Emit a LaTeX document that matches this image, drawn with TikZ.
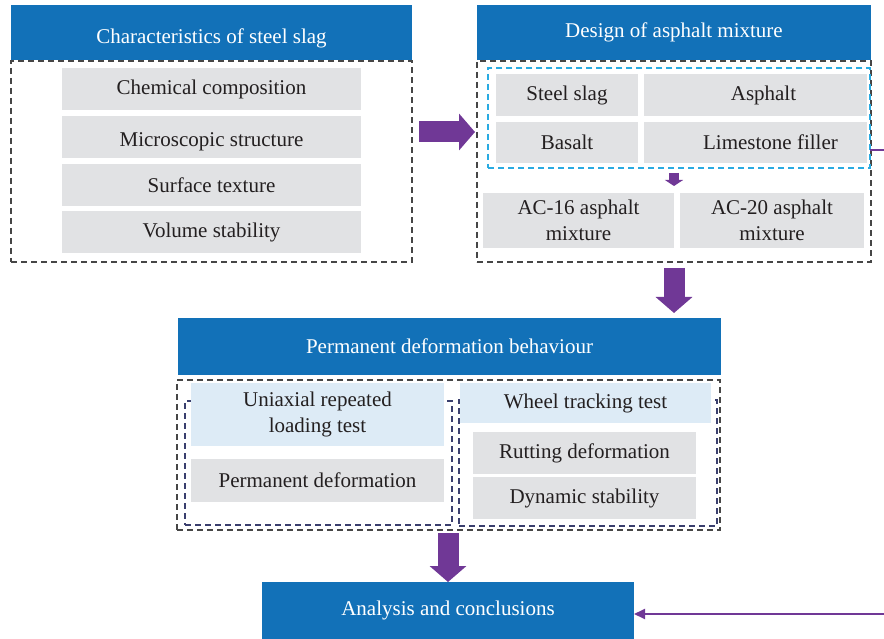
\documentclass[tikz,border=0pt]{standalone}
\usepackage{fontspec}
\setmainfont{Liberation Serif}
\usetikzlibrary{arrows.meta}
\definecolor{hblue}{RGB}{18,113,184}
\definecolor{boxgray}{RGB}{225,226,228}
\definecolor{lblue}{RGB}{221,235,246}
\definecolor{vio}{RGB}{112,56,150}
\definecolor{cyanl}{RGB}{41,171,226}
\definecolor{navyd}{RGB}{58,63,110}
\definecolor{grayd}{RGB}{70,70,70}
\definecolor{txt}{RGB}{35,31,32}
\begin{document}
\begin{tikzpicture}[x=1pt,y=-1pt,
  every node/.style={inner sep=0pt, outer sep=0pt, font=\fontsize{21}{26}\selectfont, text=txt, align=center},
  header/.style={fill=hblue, text=white},
  graybox/.style={fill=boxgray},
  lightbox/.style={fill=lblue},
  outerdash/.style={draw=grayd, line width=1.5pt, dash pattern=on 6pt off 4pt},
  cyandash/.style={draw=cyanl, line width=1.5pt, dash pattern=on 6pt off 4pt},
  navydash/.style={draw=navyd, line width=1.5pt, dash pattern=on 6pt off 4pt},
  bigarrow/.style={draw=vio, line width=21pt, -{Triangle[width=36pt,length=16pt]}},
  smallarrow/.style={draw=vio, line width=10pt, -{Triangle[width=18pt,length=6pt]}},
  thinline/.style={draw=vio, line width=1.8pt},
]
\useasboundingbox (0,0) rectangle (884,639);

% headers
\node[header, minimum width=401pt, minimum height=55pt, text height=26pt, text depth=4.6pt] (H1) at (211.5,32.5) {Characteristics of steel slag};
\node[header, minimum width=394pt, minimum height=55pt] (H2) at (674,32.5) {Design of asphalt mixture};
\node[header, minimum width=543pt, minimum height=57pt] (H3) at (449.5,346.5) {Permanent deformation behaviour};
\node[header, minimum width=372pt, minimum height=57pt] (A) at (448,610.5) {Analysis and conclusions};

% dashed frames
\node[outerdash, minimum width=401pt, minimum height=201pt] (D1) at (211.5,161.5) {};
\node[outerdash, minimum width=394pt, minimum height=201pt] (D2) at (674,161.5) {};
\node[outerdash, minimum width=543pt, minimum height=150pt] (D3) at (448.5,455) {};
\node[navydash, minimum width=267pt, minimum height=124pt] (NL) at (318.5,463) {};
\node[navydash, minimum width=258pt, minimum height=126pt] (NR) at (588,463) {};

% characteristics
\node[graybox, minimum width=299pt, minimum height=42pt] (c1) at (211.5,89) {Chemical composition};
\node[graybox, minimum width=299pt, minimum height=42pt, text height=24pt, text depth=4.6pt] (c2) at (211.5,137) {Microscopic structure};
\node[graybox, minimum width=299pt, minimum height=42pt] (c3) at (211.5,185) {Surface texture};
\node[graybox, minimum width=299pt, minimum height=42pt] (c4) at (211.5,232) {Volume stability};

% design
\node[cyandash, minimum width=382pt, minimum height=100pt] (C) at (679,118) {};
\node[graybox, minimum width=142pt, minimum height=42pt] (m1) at (567,95) {Steel slag};
\node[graybox, minimum width=223pt, minimum height=42pt] (m2) at (755.5,95) {\hspace*{16pt}Asphalt};
\node[graybox, minimum width=142pt, minimum height=41pt] (m3) at (567,142.5) {Basalt};
\node[graybox, minimum width=223pt, minimum height=41pt] (m4) at (755.5,142.5) {\hspace*{30pt}Limestone filler};
\node[graybox, minimum width=191pt, minimum height=55pt] (AC16) at (578.5,220.5) {AC-16 asphalt\\mixture};
\node[graybox, minimum width=184pt, minimum height=55pt] (AC20) at (772,220.5) {AC-20 asphalt\\mixture};

% permanent deformation
\node[lightbox, minimum width=253pt, minimum height=63pt] (U) at (317.5,414.5) {Uniaxial repeated\\loading test};
\node[graybox, minimum width=253pt, minimum height=43pt] (P) at (317.5,480.5) {Permanent deformation};
\node[lightbox, minimum width=251pt, minimum height=40pt] (W) at (585.5,403) {Wheel tracking test};
\node[graybox, minimum width=223pt, minimum height=42pt] (R) at (584.5,453) {Rutting deformation};
\node[graybox, minimum width=223pt, minimum height=42pt] (S) at (584.5,498) {Dynamic stability};

% connectors
\draw[bigarrow, shorten <=7pt, shorten >=2pt] (D1.east |- 0,132) -- (D2.west |- 0,132);
\draw[bigarrow, shorten <=6pt, shorten >=5pt] (D2.south) -- (H3.north -| D2.south);
\draw[bigarrow, shorten <=3pt] (D3.south -| A.north) -- (A.north);
\draw[smallarrow, shorten <=5pt, shorten >=7pt] (C.south -| D2.south) -- (AC16.north -| D2.south);
\coordinate (r1) at (884,150);
\coordinate (r2) at (884,614);
\draw[thinline] (C.east |- r1) -- (r1);
\draw[thinline, -{Triangle[width=10pt,length=11pt]}] (r2) -- (A.east |- r2);
\end{tikzpicture}
\end{document}
